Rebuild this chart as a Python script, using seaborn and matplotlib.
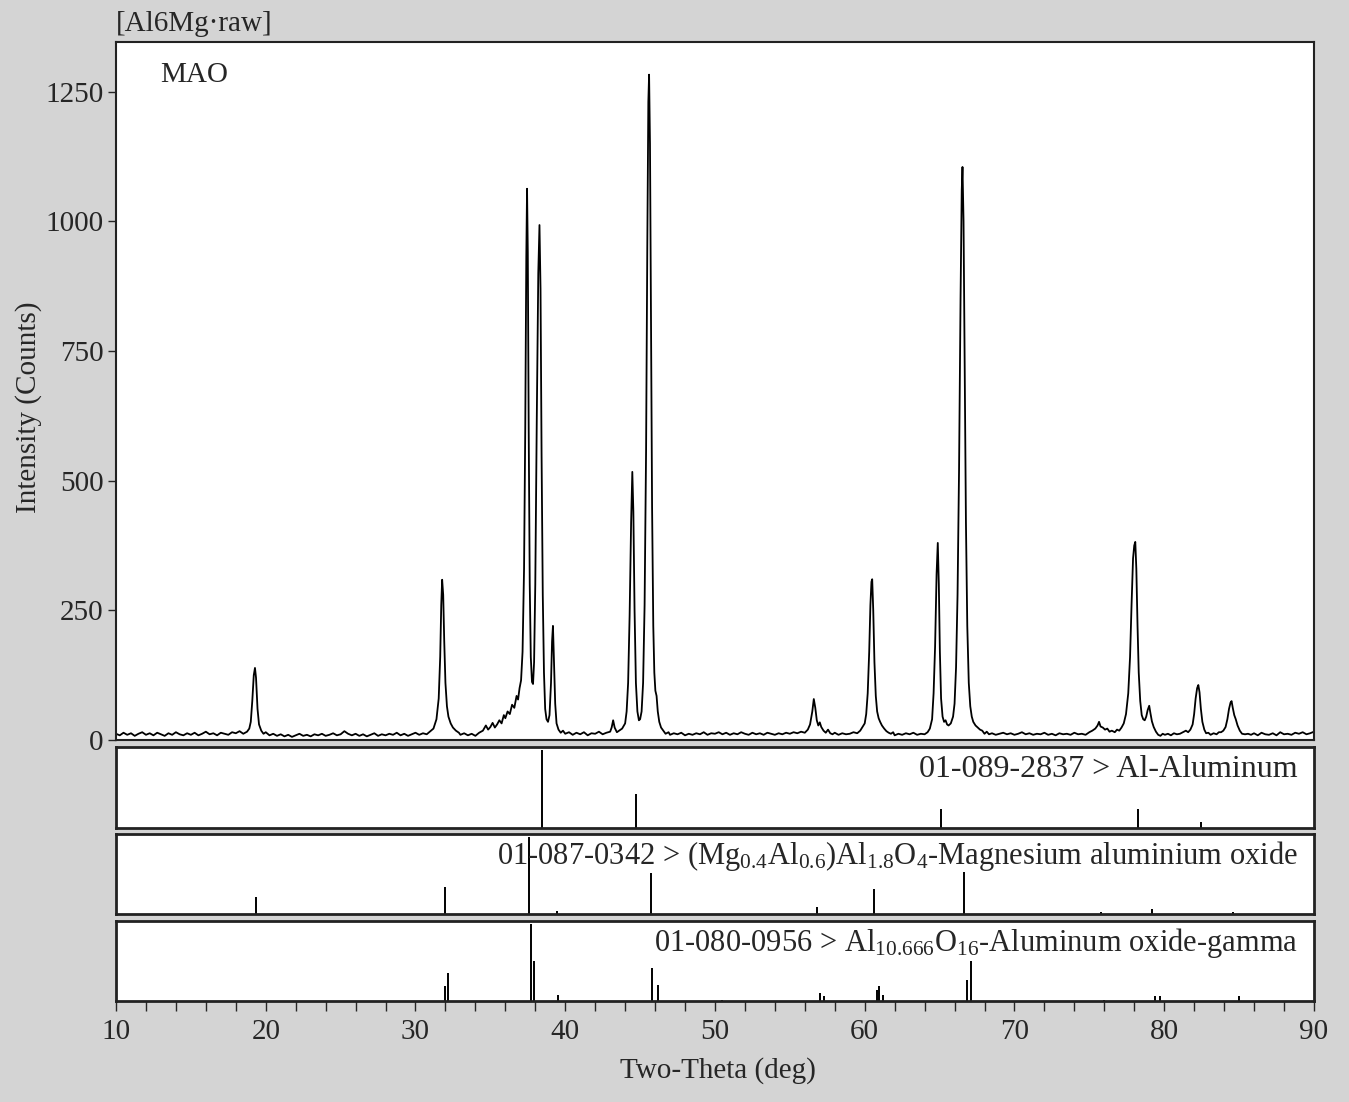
import matplotlib
matplotlib.use("Agg")
import matplotlib.pyplot as plt
from matplotlib.ticker import MultipleLocator
import seaborn as sns

two_theta = [
    10.0, 10.25, 10.5, 10.75, 11.0, 11.25, 11.5, 11.75, 12.0, 12.25, 12.5, 12.75,
    13.0, 13.25, 13.5, 13.75, 14.0, 14.25, 14.5, 14.75, 15.0, 15.25, 15.5, 15.75,
    16.0, 16.25, 16.5, 16.75, 17.0, 17.25, 17.5, 17.75, 18.0, 18.25, 18.5, 18.75,
    18.9, 19.0, 19.1, 19.2, 19.28, 19.35, 19.45, 19.55, 19.7, 19.85,
    20.0, 20.25, 20.5, 20.75, 21.0, 21.25, 21.5, 21.75, 22.0, 22.25, 22.5, 22.75,
    23.0, 23.25, 23.5, 23.75, 24.0, 24.25, 24.5, 24.75, 25.0, 25.25, 25.5, 25.75,
    26.0, 26.25, 26.5, 26.75, 27.0, 27.25, 27.5, 27.75, 28.0, 28.25, 28.5, 28.75,
    29.0, 29.25, 29.5, 29.75, 30.0, 30.25, 30.5, 30.75, 31.0, 31.2, 31.4, 31.55,
    31.65, 31.72, 31.78, 31.85, 31.92, 32.0, 32.1, 32.2, 32.35, 32.5, 32.7, 32.9,
    33.0, 33.25, 33.5, 33.75, 34.0, 34.25, 34.5, 34.7, 34.85, 35.0, 35.15, 35.3,
    35.45, 35.6, 35.75, 35.9, 36.0, 36.15, 36.3, 36.45, 36.6, 36.75, 36.85, 36.95,
    37.05, 37.15, 37.25, 37.33, 37.4, 37.45, 37.5, 37.56, 37.63, 37.7, 37.78, 37.85,
    37.92, 38.0, 38.1, 38.2, 38.28, 38.35, 38.42, 38.5, 38.58, 38.66, 38.75, 38.85,
    38.95, 39.05, 39.12, 39.18, 39.25, 39.33, 39.42, 39.55, 39.7, 39.85,
    40.0, 40.25, 40.5, 40.75, 41.0, 41.25, 41.5, 41.75, 42.0, 42.25, 42.5, 42.75,
    43.0, 43.1, 43.2, 43.3, 43.45, 43.6, 43.8, 44.0, 44.1, 44.2, 44.3, 44.4,
    44.48, 44.55, 44.63, 44.72, 44.82, 44.92, 45.0, 45.1, 45.2, 45.3, 45.4, 45.48,
    45.55, 45.6, 45.66, 45.73, 45.8, 45.88, 45.95, 46.02, 46.1, 46.18, 46.28, 46.4,
    46.55, 46.7, 46.9, 47.0, 47.25, 47.5, 47.75, 48.0, 48.25, 48.5, 48.75,
    49.0, 49.25, 49.5, 49.75, 50.0, 50.25, 50.5, 50.75, 51.0, 51.25, 51.5, 51.75,
    52.0, 52.25, 52.5, 52.75, 53.0, 53.25, 53.5, 53.75, 54.0, 54.25, 54.5, 54.75,
    55.0, 55.25, 55.5, 55.75, 56.0, 56.2, 56.35, 56.5, 56.6, 56.7, 56.8, 56.9,
    57.0, 57.1, 57.25, 57.4, 57.55, 57.7, 57.85, 58.0, 58.25, 58.5, 58.75,
    59.0, 59.25, 59.5, 59.7, 59.85, 60.0, 60.1, 60.2, 60.3, 60.38, 60.45, 60.5,
    60.57, 60.65, 60.74, 60.83, 60.93, 61.03, 61.15, 61.3, 61.45, 61.6, 61.75, 61.9,
    62.0, 62.25, 62.5, 62.75, 63.0, 63.25, 63.5, 63.75, 64.0, 64.2, 64.35, 64.5,
    64.6, 64.7, 64.8, 64.88, 64.95, 65.02, 65.1, 65.2, 65.3, 65.4, 65.5, 65.6,
    65.75, 65.9, 66.0, 66.1, 66.2, 66.3, 66.4, 66.48, 66.53, 66.6, 66.68, 66.76,
    66.85, 66.95, 67.05, 67.15, 67.25, 67.4, 67.55, 67.7, 67.85, 68.0, 68.15, 68.3,
    68.5, 68.75, 69.0, 69.25, 69.5, 69.75, 70.0, 70.25, 70.5, 70.75, 71.0, 71.25,
    71.5, 71.75, 72.0, 72.25, 72.5, 72.75, 73.0, 73.25, 73.5, 73.75, 74.0, 74.25,
    74.5, 74.75, 75.0, 75.2, 75.4, 75.55, 75.65, 75.75, 75.9, 76.05, 76.2, 76.35,
    76.5, 76.7, 76.85, 77.0, 77.15, 77.3, 77.45, 77.6, 77.72, 77.82, 77.92, 78.0,
    78.07, 78.14, 78.22, 78.3, 78.4, 78.5, 78.6, 78.7, 78.8, 78.9, 79.0, 79.08,
    79.18, 79.3, 79.45, 79.6, 79.75, 79.9, 80.05, 80.25, 80.45, 80.65, 80.85, 81.05,
    81.25, 81.45, 81.6, 81.75, 81.9, 82.0, 82.1, 82.2, 82.28, 82.36, 82.45, 82.55,
    82.68, 82.8, 82.95, 83.1, 83.3, 83.5, 83.65, 83.8, 83.95, 84.1, 84.22, 84.33,
    84.43, 84.5, 84.58, 84.68, 84.78, 84.9, 85.05, 85.2, 85.4, 85.6, 85.8, 86.0,
    86.25, 86.5, 86.75, 87.0, 87.25, 87.5, 87.75, 88.0, 88.25, 88.5, 88.75, 89.0,
    89.25, 89.5, 89.75, 90.0,
]
counts = [
    12, 9, 14, 10, 13, 8, 12, 15, 10, 13, 9, 14,
    11, 8, 13, 10, 15, 11, 9, 13, 10, 14, 9, 12,
    16, 11, 13, 9, 14, 12, 10, 15, 13, 17, 12, 16,
    22, 35, 75, 125, 139, 120, 60, 30, 18, 12,
    15, 9, 12, 8, 11, 7, 10, 6, 9, 12, 8, 10,
    7, 11, 9, 12, 8, 10, 13, 9, 11, 17, 12, 9,
    12, 8, 11, 7, 10, 13, 8, 11, 9, 12, 10, 14,
    9, 12, 8, 11, 14, 10, 13, 11, 17, 22, 40, 80,
    160, 260, 309, 280, 190, 110, 65, 45, 32, 24, 18, 14,
    10, 13, 9, 12, 8, 14, 18, 28, 20, 25, 33, 24,
    30, 38, 32, 48, 42, 55, 50, 68, 62, 85, 78, 100,
    115, 170, 330, 600, 930, 1063, 940, 600, 300, 160, 112, 108,
    150, 300, 620, 900, 993, 870, 550, 280, 130, 60, 40, 35,
    48, 110, 190, 220, 150, 70, 32, 20, 14, 18,
    12, 15, 10, 14, 11, 15, 9, 13, 12, 16, 11, 14,
    16, 24, 38, 24, 15, 18, 22, 32, 55, 110, 240, 420,
    517, 440, 250, 110, 55, 38, 40, 55, 110, 260, 560, 950,
    1230, 1283, 1150, 800, 450, 220, 130, 95, 85, 55, 35, 24,
    18, 12, 15, 10, 13, 11, 14, 9, 12, 10, 13,
    11, 15, 10, 13, 12, 15, 11, 14, 10, 13, 11, 15,
    12, 10, 14, 11, 13, 10, 14, 12, 10, 13, 11, 14,
    12, 15, 13, 16, 14, 20, 30, 55, 79, 62, 38, 28,
    34, 25, 18, 14, 20, 13, 11, 14, 10, 13, 11,
    12, 15, 13, 18, 25, 32, 50, 90, 170, 260, 305, 310,
    250, 150, 85, 55, 42, 35, 28, 22, 17, 14, 12, 15,
    9, 12, 10, 13, 11, 14, 10, 12, 11, 15, 22, 40,
    90, 180, 320, 380, 300, 170, 80, 45, 35, 38, 30, 28,
    32, 45, 70, 140, 280, 520, 850, 1060, 1105, 1000, 720, 420,
    220, 110, 65, 45, 35, 28, 24, 20, 18, 12, 16, 11,
    13, 10, 12, 14, 11, 13, 10, 12, 15, 11, 13, 10,
    12, 11, 14, 10, 12, 9, 13, 11, 12, 10, 14, 11,
    12, 10, 15, 18, 22, 28, 35, 26, 24, 20, 22, 16,
    18, 15, 20, 18, 24, 32, 50, 90, 160, 260, 350, 375,
    382, 330, 220, 130, 75, 48, 40, 38, 45, 58, 66, 52,
    36, 25, 16, 10, 8, 12, 10, 12, 9, 13, 11, 12,
    15, 18, 15, 20, 30, 50, 80, 100, 106, 92, 60, 35,
    20, 13, 14, 10, 13, 11, 15, 15, 18, 25, 40, 60,
    72, 75, 62, 48, 40, 28, 18, 12, 11, 12, 10, 13,
    9, 14, 11, 10, 13, 9, 15, 11, 12, 10, 14, 12,
    15, 11, 13, 16,
]

# reference patterns: stick positions (deg) and relative intensity (%)
al_pos = [38.47, 44.72, 65.10, 78.23, 82.44]
al_rel = [100, 44, 24, 24, 8]
mao_pos = [19.35, 31.95, 37.60, 39.45, 45.75, 56.80, 60.60, 66.60, 75.80, 79.20, 84.60]
mao_rel = [22, 35, 100, 4, 53, 9, 33, 55, 2, 7, 3]
gam_pos = [31.97, 32.16, 37.72, 37.92, 39.55, 45.78, 46.20, 50.45, 57.00, 57.27,
           60.80, 60.94, 61.25, 66.85, 67.10, 76.00, 79.40, 79.70, 85.00]
gam_rel = [20, 37, 100, 52, 8, 43, 21, 2, 10, 6, 14, 19, 8, 27, 52, 2, 6, 6, 6]

ref_labels = [
    "01-089-2837 > Al-Aluminum",
    "01-087-0342 > (Mg$_{0.4}$Al$_{0.6}$)Al$_{1.8}$O$_{4}$-Magnesium aluminium oxide",
    "01-080-0956 > Al$_{10.666}$O$_{16}$-Aluminum oxide-gamma",
]
ref_sizes = [23, 22, 22]

sns.set_style("white")
plt.rcParams["font.family"] = ["Liberation Serif", "DejaVu Serif"]
plt.rcParams["mathtext.default"] = "regular"
FS = 21
BG = "#d4d4d4"

fig = plt.figure(figsize=(13.49, 11.02), dpi=100, facecolor=BG)

ax = fig.add_axes([0.086, 0.3285, 0.888, 0.6334])
sns.lineplot(x=two_theta, y=counts, ax=ax, color="black", linewidth=1.3,
             estimator=None, sort=False)
ax.set_xlim(10, 90)
ax.set_ylim(0, 1346)
ax.set_xticks([])
ax.set_yticks([0, 250, 500, 750, 1000, 1250])
ax.tick_params(axis="y", direction="out", length=6, width=1, labelsize=FS, pad=3, left=True)
ax.set_xlabel("")
ax.set_ylabel("")
for s in ax.spines.values():
    s.set_color("#222222")
    s.set_linewidth(1.5)
ax.text(0.037, 0.953, "MAO", transform=ax.transAxes, fontsize=FS, va="center", ha="left")

fig.text(0.086, 0.978, "[Al6Mg·raw]", fontsize=FS, ha="left", va="center")
fig.text(0.021, 0.63, "Intensity (Counts)", fontsize=FS, rotation=90, ha="center", va="center")
fig.text(0.532, 0.029, "Two-Theta (deg)", fontsize=FS, ha="center", va="center")

panels = [
    ([0.086, 0.2486, 0.888, 0.0735], al_pos, al_rel),
    ([0.086, 0.1706, 0.888, 0.0726], mao_pos, mao_rel),
    ([0.086, 0.0916, 0.888, 0.0726], gam_pos, gam_rel),
]
for i, (rect, pos, rel) in enumerate(panels):
    pax = fig.add_axes(rect)
    pax.vlines(pos, 0, rel, color="black", linewidth=1.4)
    pax.set_xlim(10, 90)
    pax.set_ylim(0, 104)
    pax.set_yticks([])
    for s in pax.spines.values():
        s.set_color("#222222")
        s.set_linewidth(2)
    pax.text(0.9866, 0.72, ref_labels[i], transform=pax.transAxes, fontsize=ref_sizes[i],
             ha="right", va="center")
    if i < 2:
        pax.set_xticks([])
    else:
        pax.xaxis.set_major_locator(MultipleLocator(10))
        pax.xaxis.set_minor_locator(MultipleLocator(2))
        pax.tick_params(axis="x", which="both", direction="out", length=7, width=1,
                        labelsize=FS, pad=6, bottom=True)

fig.savefig("out.png", dpi=100, facecolor=BG)
